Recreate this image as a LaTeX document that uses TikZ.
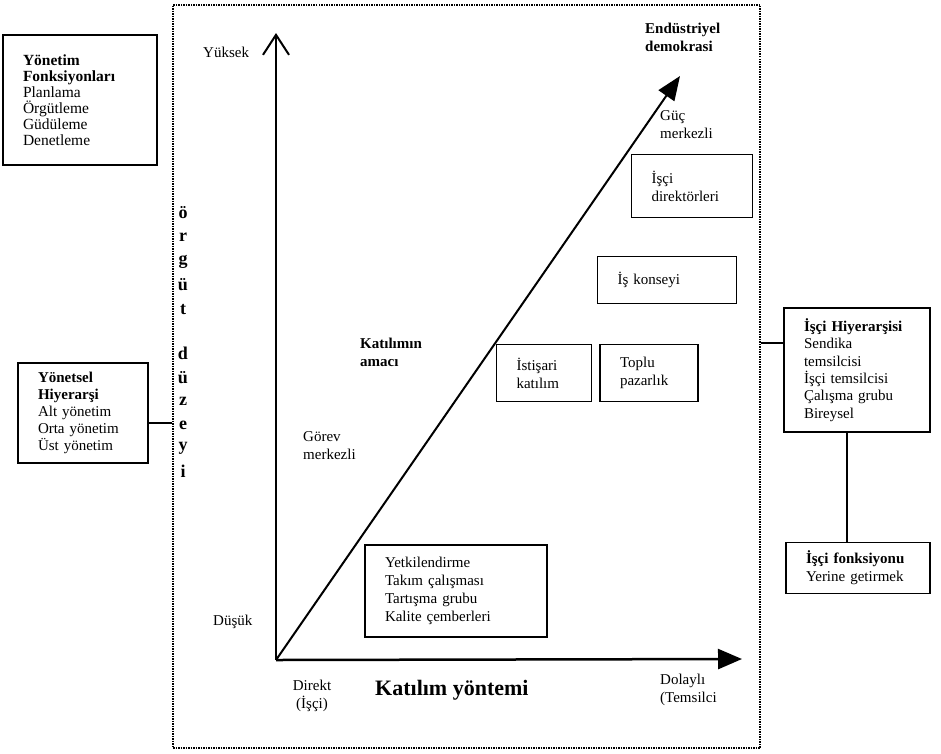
\documentclass[tikz,border=0pt]{standalone}
\usepackage{fontspec}
\setmainfont{Liberation Serif}
\usetikzlibrary{arrows.meta}

\begin{document}
\begin{tikzpicture}[x=1pt,y=-1pt,
    kutu/.style={draw,line width=1.3pt,align=left,inner xsep=20pt,inner ysep=0pt,font=\fontsize{15}{18}\selectfont},
    yazi/.style={align=left,anchor=west,inner sep=0pt,font=\fontsize{15}{18}\selectfont},
    kalin/.style={font=\fontsize{15}{18}\selectfont\bfseries},
    harf/.style={inner sep=0pt,font=\fontsize{18}{18}\selectfont\bfseries}]

  \useasboundingbox (0,0) rectangle (941,753);

  % dotted frame round the graph
  \node[draw,dash pattern=on 1.5pt off 1pt,line width=1.6pt,
        minimum width=587pt,minimum height=743pt] (cerceve) at (466.5,376.5) {};

  % axes
  \coordinate (O) at (276,660);
  \coordinate (ytip) at (276,33);
  \coordinate (xtip) at (742,659);
  \coordinate (dtip) at (680,76);
  \draw[line width=2pt,-{Straight Barb[length=20pt,width=26pt]}] (O) -- (ytip);
  \draw[line width=2.5pt,-{Triangle[length=24pt,width=20pt]}] (O) -- (xtip);
  \draw[line width=2pt,-{Triangle[length=24pt,width=19pt]}] (O) -- (dtip);

  % vertical axis title
  \foreach \h/\y in {ö/213,r/237,g/262,ü/285,t/310,d/353,ü/378,z/401,e/425,y/448,i/471}
    \node[harf] (harf\y) at (183,\y) {\h};

  \node[yazi] (yuksek) at (203,52) {Yüksek};
  \node[yazi] (dusuk) at (213,622) {Düşük};
  \node[yazi,align=center,anchor=center] (direkt) at (312,696) {Direkt\\(İşçi)};
  \node[yazi,font=\fontsize{22}{24}\selectfont\bfseries] (yontem) at (375,690) {Katılım yöntemi};
  \node[yazi] (dolayli) at (660,690) {Dolaylı\\(Temsilci};
  \node[yazi,kalin] (endustri) at (645,37) {Endüstriyel\\demokrasi};
  \node[yazi] (guc) at (660,125) {Güç\\merkezli};
  \node[yazi,kalin] (amac) at (360,352) {Katılımın\\amacı};
  \node[yazi] (gorev) at (303,446) {Görev\\merkezli};

  % boxes inside the frame
  \node[kutu,text width=81pt,minimum height=63pt] (direktor) at (692,186) {İşçi\\direktörleri};
  \node[kutu,text width=99pt,minimum height=47pt] (konsey) at (667,280) {İş konseyi};
  \node[kutu,text width=55pt,minimum height=57pt] (istisari) at (544,373) {İstişari\\katılım};
  \node[kutu,text width=58pt,minimum height=57pt] (toplu) at (649,373) {Toplu\\pazarlık};
  \node[kutu,text width=142pt,minimum height=92pt] (yetki) at (456,591)
    {Yetkilendirme\\Takım çalışması\\Tartışma grubu\\Kalite çemberleri};

  % boxes outside the frame
  \node[kutu,text width=114pt,minimum height=130pt,font=\fontsize{15.5}{16}\selectfont] (fonk) at (80,100)
    {\textbf{Yönetim}\\\textbf{Fonksiyonları}\\Planlama\\Örgütleme\\Güdüleme\\Denetleme};
  \node[kutu,text width=90pt,minimum height=100pt,font=\fontsize{15}{17}\selectfont] (yonetsel) at (83,413)
    {\textbf{Yönetsel}\\\textbf{Hiyerarşi}\\Alt yönetim\\Orta yönetim\\Üst yönetim};
  \node[kutu,text width=106pt,minimum height=124pt,font=\fontsize{15}{17.4}\selectfont] (iscihiy) at (857,370)
    {\textbf{İşçi Hiyerarşisi}\\Sendika\\temsilcisi\\İşçi temsilcisi\\Çalışma grubu\\Bireysel};
  \node[kutu,text width=104pt,minimum height=51pt] (iscifonk) at (858,568)
    {\textbf{İşçi fonksiyonu}\\Yerine getirmek};

  \draw[line width=1.3pt]
    ([yshift=-10pt]yonetsel.east) -- ([yshift=-10pt]yonetsel.east -| cerceve.west)
    ([yshift=27pt]iscihiy.west) -- ([yshift=27pt]iscihiy.west -| cerceve.east)
    ([xshift=-10pt]iscihiy.south) -- ([xshift=-10pt]iscihiy.south |- iscifonk.north);
\end{tikzpicture}
\end{document}
